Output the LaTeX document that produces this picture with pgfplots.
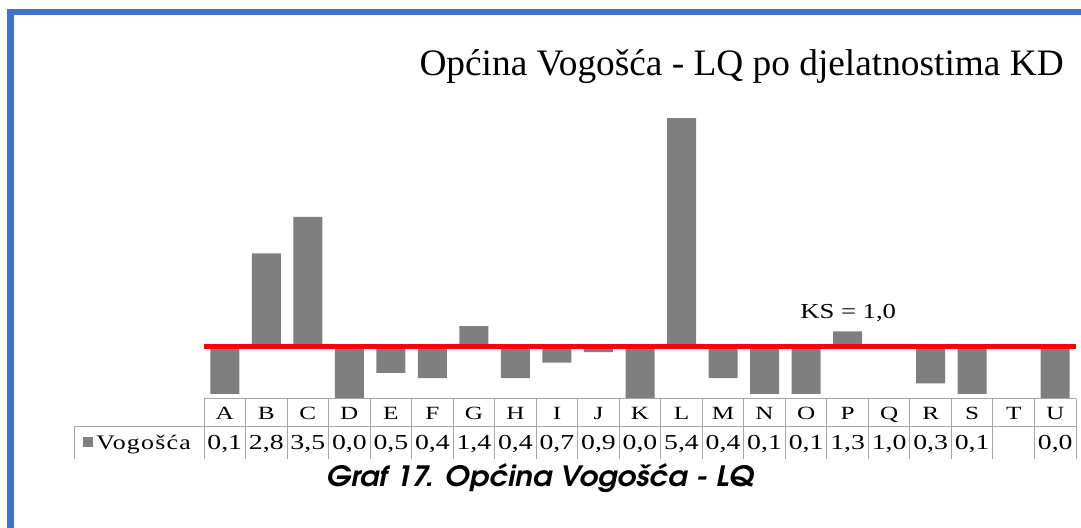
\documentclass[border=0pt]{standalone}
\usepackage{pgfplots}
\pgfplotsset{compat=1.18}
\usepackage{pgfplotstable}
\usepackage{fontspec}
\setmainfont{Liberation Serif}
\newfontfamily\letfont[FakeStretch=1.35]{Liberation Serif}
\newfontfamily\valfont[FakeStretch=1.3]{Liberation Serif}
\newfontfamily\ksfont[FakeStretch=1.25]{Liberation Serif}
\newfontfamily\legfont[FakeStretch=1.25,LetterSpace=6]{Liberation Serif}
\newfontfamily\capfont[FakeStretch=1.05]{TeX Gyre Adventor}
\definecolor{framebl}{HTML}{4472C4}
\definecolor{bargray}{HTML}{7F7F7F}
\definecolor{gridgray}{HTML}{A6A6A6}

\pgfplotstableread{
x v
0 0.1
1 2.8
2 3.5
3 0.0
4 0.5
5 0.4
6 1.4
7 0.4
8 0.7
9 0.9
10 0.0
11 5.4
12 0.4
13 0.1
14 0.1
15 1.3
16 1.0
17 0.3
18 0.1
20 0.0
}\lqdata

\begin{document}
\begin{tikzpicture}[x=0.75pt,y=0.75pt]
\useasboundingbox (0,0) rectangle (1081,528);
% frame
\fill[framebl] (7,513) rectangle (1081,519);
\fill[framebl] (7,0) rectangle (14,519);

\begin{axis}[
  at={(153pt,96.75pt)}, anchor=south west,
  width=654pt, height=224.25pt, scale only axis,
  xmin=-0.5, xmax=20.5, ymin=-1, ymax=4.75,
  axis line style={draw=none},
  major tick length=0pt,
  ytick=\empty,
  xtick={0,...,20},
  xticklabels={A,B,C,D,E,F,G,H,I,J,K,L,M,N,O,P,Q,R,S,T,U},
  xticklabel style={font=\letfont\fontsize{14}{14}\selectfont, anchor=base, inner sep=0pt, yshift=-15.75pt},
  clip=false,
]
\addplot[ybar, bar width=21.75pt, fill=bargray, draw=none] table[x=x, y expr=\thisrow{v}-1]{\lqdata};
\addplot[red, line width=3.75pt, forget plot] coordinates {(-0.5,0) (20.5,0)};
\end{axis}

% data table grid
\foreach \k in {0,...,21} {
  \draw[gridgray, line width=0.75pt] ({204+41.5238*\k},129) -- ({204+41.5238*\k},69);
}
\draw[gridgray, line width=0.75pt] (204,129) -- (1076,129);
\draw[gridgray, line width=0.75pt] (74,101) -- (1076,101);
\draw[gridgray, line width=0.75pt] (74,101) -- (74,69);

\foreach \k/\t in {0/{0,1},1/{2,8},2/{3,5},3/{0,0},4/{0,5},5/{0,4},6/{1,4},7/{0,4},8/{0,7},9/{0,9},10/{0,0},11/{5,4},12/{0,4},13/{0,1},14/{0,1},15/{1,3},16/{1,0},17/{0,3},18/{0,1},20/{0,0}} {
  \node[anchor=base, inner sep=0pt, font=\valfont\fontsize{16}{16}\selectfont] at ({204+41.5238*(\k+0.5)},78) {\t};
}

% legend key
\fill[bargray] (83,81) rectangle (93,91);
\node[anchor=base west, inner sep=0pt, font=\legfont\fontsize{15.5}{15.5}\selectfont] at (96,78) {Vogošća};

% texts
\node[anchor=base east, inner sep=0pt, font=\fontsize{28}{28}\selectfont] at (1064,452) {Općina Vogošća - LQ po djelatnostima KD};
\node[anchor=base west, inner sep=0pt, font=\ksfont\fontsize{16}{16}\selectfont] at (800,209) {KS = 1,0};
\node[anchor=base, inner sep=0pt, font=\capfont\bfseries\itshape\fontsize{21}{21}\selectfont] at (540,41) {Graf 17. Općina Vogošća - LQ};
\end{tikzpicture}
\end{document}
